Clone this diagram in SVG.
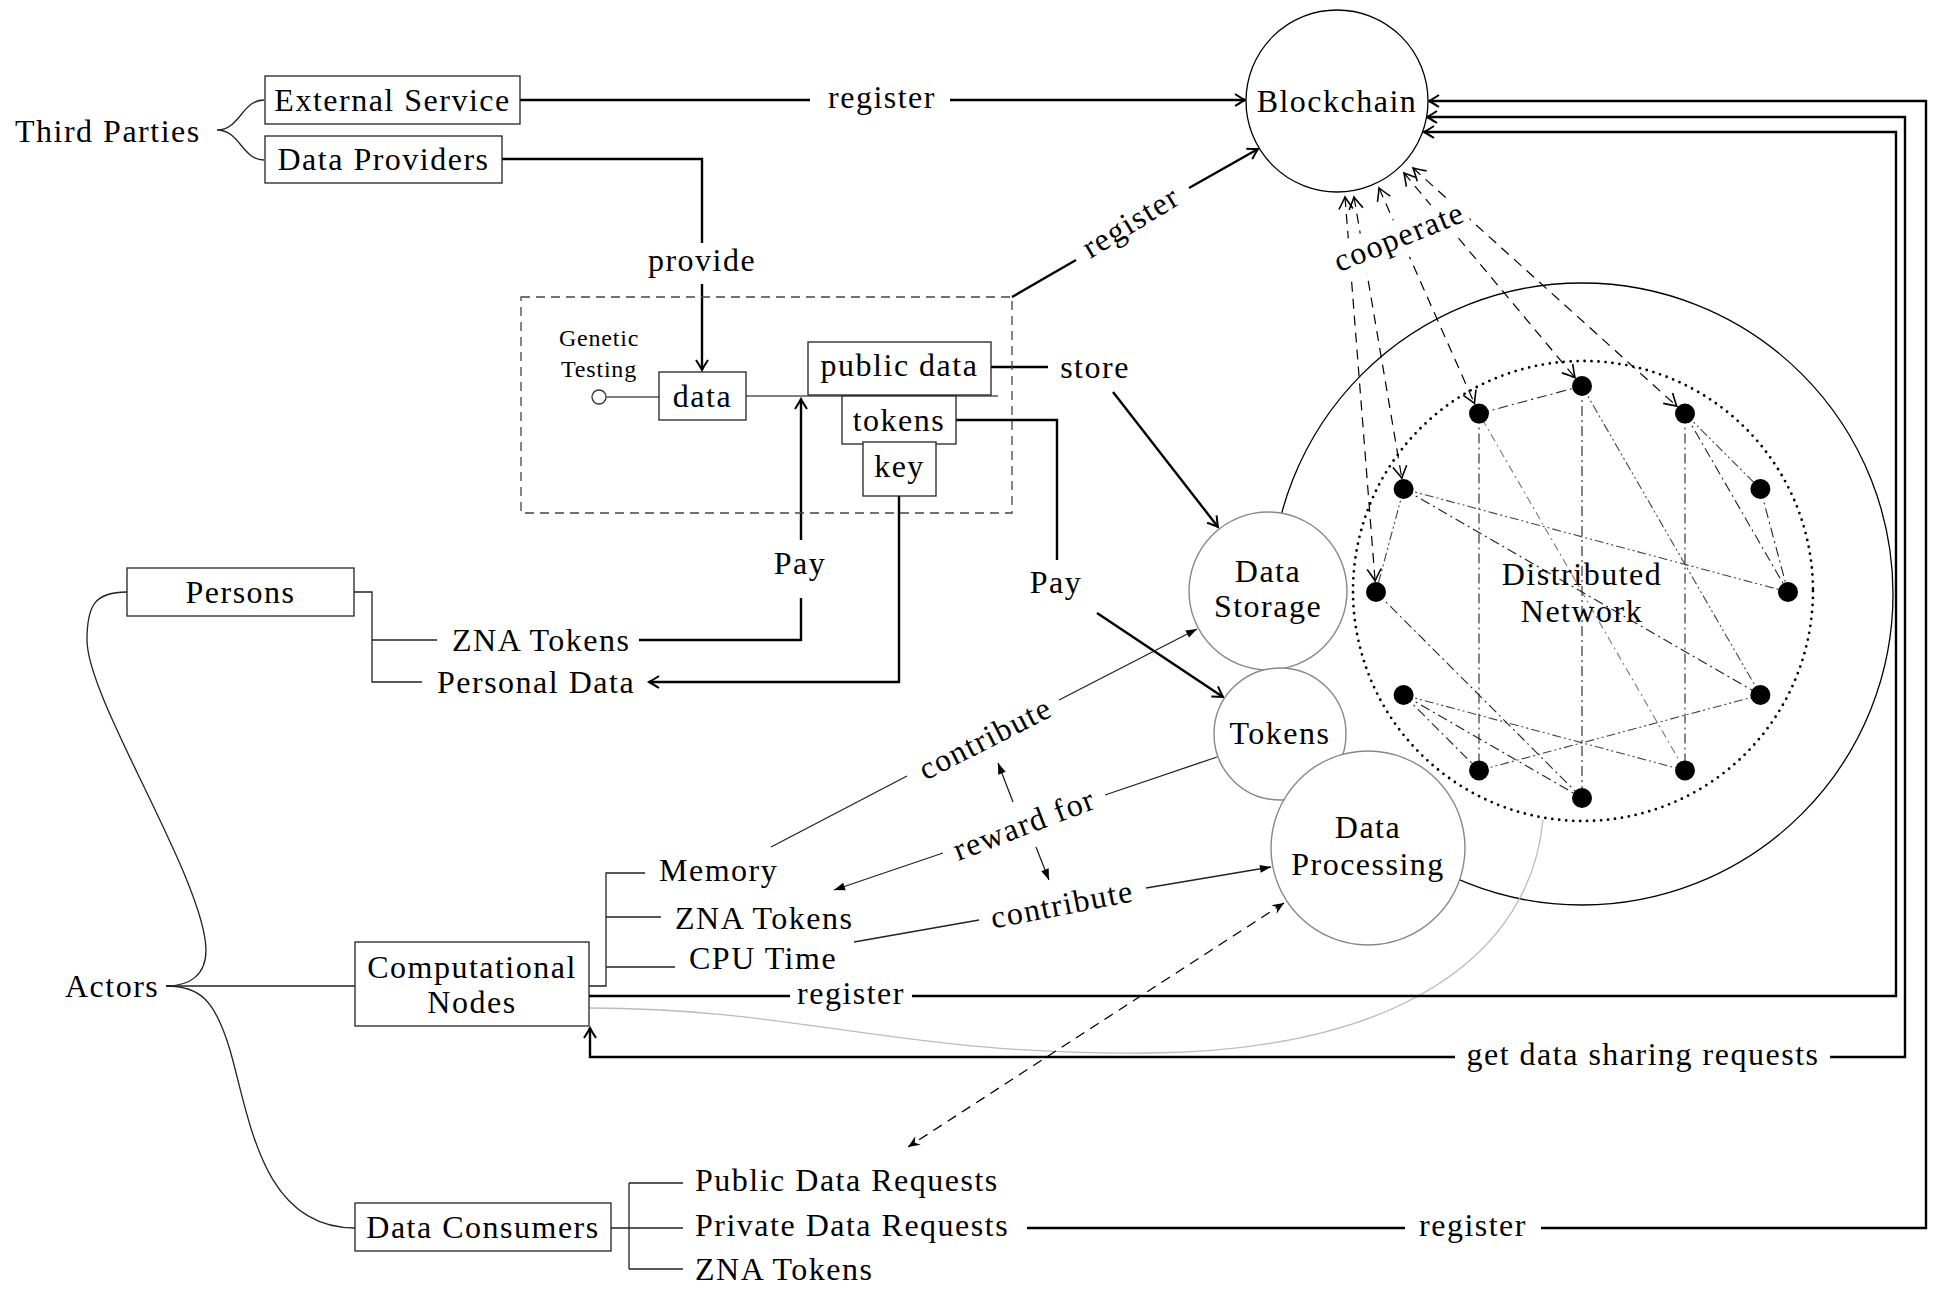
<svg xmlns="http://www.w3.org/2000/svg" width="1939" height="1290" viewBox="0 0 1939 1290">
<style>
.t{font-family:"Liberation Serif","Times New Roman",serif;font-size:32px;letter-spacing:1.5px;fill:#000}
.m{text-anchor:middle}
.s{font-size:24px;letter-spacing:0.8px}
.box{fill:#fff;stroke:#222;stroke-width:1.3}
.thin{fill:none;stroke:#222;stroke-width:1.3}
.thick{fill:none;stroke:#000;stroke-width:2.4}
.circ{fill:#fff;stroke:#888;stroke-width:1.4}
.coop{fill:none;stroke:#000;stroke-width:1.2;stroke-dasharray:10 7}
.e1{fill:none;stroke:#222;stroke-width:1.1;stroke-dasharray:10 4 2 4}
.e2{fill:none;stroke:#444;stroke-width:1.1;stroke-dasharray:9 3 2 3 2 3}
.e3{fill:none;stroke:#777;stroke-width:1.1;stroke-dasharray:2 4 8 4}
</style>
<defs>
<marker id="ar" viewBox="-12 -8 14 16" refX="0" refY="0" markerWidth="14" markerHeight="16" markerUnits="userSpaceOnUse" orient="auto-start-reverse">
<path d="M-10,-6 Q-3,-1.5 0,0 Q-3,1.5 -10,6" fill="none" stroke="#000" stroke-width="2"/>
</marker>
<marker id="ar2" viewBox="-14 -9 16 18" refX="0" refY="0" markerWidth="16" markerHeight="18" markerUnits="userSpaceOnUse" orient="auto-start-reverse">
<path d="M-12,-7 Q-3,-1.5 0,0 Q-3,1.5 -12,7" fill="none" stroke="#000" stroke-width="1.6"/>
</marker>
<marker id="tri" viewBox="-12 -6 14 12" refX="0" refY="0" markerWidth="14" markerHeight="12" markerUnits="userSpaceOnUse" orient="auto-start-reverse">
<path d="M0,0 L-11,-4 L-11,4 Z" fill="#000"/>
</marker>
<marker id="st" viewBox="-14 -7 16 14" refX="0" refY="0" markerWidth="16" markerHeight="14" markerUnits="userSpaceOnUse" orient="auto-start-reverse">
<path d="M0,0 L-12,-5 L-8,0 L-12,5 Z" fill="#000"/>
</marker>
</defs>
<rect width="1939" height="1290" fill="#fff"/>

<!-- network container -->
<g id="network">
<circle cx="1582" cy="594" r="311" fill="none" stroke="#000" stroke-width="1.3"/>
<circle cx="1583" cy="591" r="230" fill="none" stroke="#000" stroke-width="2.8" stroke-linecap="round" stroke-dasharray="0 7"/>
<g id="net-edges">
<line class="e1" x1="1479" y1="413.6" x2="1582" y2="386"/>
<line class="e1" x1="1582" y1="386" x2="1582" y2="798"/>
<line class="e2" x1="1582" y1="386" x2="1760.4" y2="695"/>
<line class="e1" x1="1479" y1="413.6" x2="1479" y2="770.4"/>
<line class="e3" x1="1479" y1="413.6" x2="1685" y2="770.4"/>
<line class="e2" x1="1403.6" y1="489" x2="1376" y2="592"/>
<line class="e2" x1="1403.6" y1="489" x2="1788" y2="592"/>
<line class="e1" x1="1403.6" y1="489" x2="1760.4" y2="695"/>
<line class="e2" x1="1685" y1="413.6" x2="1760.4" y2="489"/>
<line class="e1" x1="1685" y1="413.6" x2="1788" y2="592"/>
<line class="e1" x1="1685" y1="413.6" x2="1685" y2="770.4"/>
<line class="e1" x1="1760.4" y1="489" x2="1788" y2="592"/>
<line class="e1" x1="1376" y1="592" x2="1582" y2="798"/>
<line class="e1" x1="1403.6" y1="695" x2="1479" y2="770.4"/>
<line class="e2" x1="1403.6" y1="695" x2="1685" y2="770.4"/>
<line class="e1" x1="1403.6" y1="695" x2="1582" y2="798"/>
<line class="e2" x1="1479" y1="770.4" x2="1760.4" y2="695"/>
</g>
<g id="net-nodes" fill="#000">
<circle cx="1582" cy="386" r="10"/>
<circle cx="1479" cy="413.6" r="10"/>
<circle cx="1685" cy="413.6" r="10"/>
<circle cx="1403.6" cy="489" r="10"/>
<circle cx="1760.4" cy="489" r="10"/>
<circle cx="1376" cy="592" r="10"/>
<circle cx="1788" cy="592" r="10"/>
<circle cx="1403.6" cy="695" r="10"/>
<circle cx="1760.4" cy="695" r="10"/>
<circle cx="1479" cy="770.4" r="10"/>
<circle cx="1685" cy="770.4" r="10"/>
<circle cx="1582" cy="798" r="10"/>
</g>
<text class="t m" x="1582" y="585">Distributed</text>
<text class="t m" x="1582" y="622">Network</text>
</g>

<!-- connectors -->
<g id="connectors">
<path class="thin" d="M264,100 C242,100 240,130 217,130 C240,130 242,160 264,160"/>
<path class="thin" d="M127,592 C95,592 87,605 87,640 C87,700 205,880 206,950 C206,975 190,986 166,986"/>
<path class="thin" d="M166,986 H355"/>
<path class="thin" d="M166,986 C200,986 215,1000 230,1050 C250,1120 262,1228 355,1228"/>
<path class="thin" d="M354,592 H372 V682 H422 M372,640 H437"/>
<path class="thin" d="M589,986 H606 V873 H645 M606,917 H661 M606,967 H675"/>
<path class="thin" d="M611,1228 H629 M629,1183 V1269 M629,1183 H683 M629,1228 H683 M629,1269 H683"/>
<path fill="none" stroke="#bbb" stroke-width="1.3" d="M589,1008 C800,1008 900,1056 1150,1053 C1400,1050 1530,955 1543,820"/>

<path class="thick" d="M520,100 H810"/>
<path class="thick" marker-end="url(#ar)" d="M950,100 H1245"/>
<path class="thick" d="M502,159 H702 V243"/>
<path class="thick" marker-end="url(#ar)" d="M702,284 V370"/>
<path class="thick" d="M639,640 H801 V598"/>
<path class="thick" marker-end="url(#ar)" d="M801,540 V399"/>
<path class="thick" marker-end="url(#ar)" d="M899,496 V682 H649"/>
<path class="thick" d="M991,367 H1048"/>
<path class="thick" marker-end="url(#ar)" d="M1113,392 L1218,527"/>
<path class="thick" d="M956,420 H1057 V560"/>
<path class="thick" marker-end="url(#ar)" d="M1097,613 L1223,697"/>
<path class="thick" d="M1012,297 L1076,260"/>
<path class="thick" marker-end="url(#ar)" d="M1189,188 L1258,149"/>
<path class="thick" d="M589,996 H790"/>
<path class="thick" marker-end="url(#ar)" d="M912,996 H1896 V132 H1424"/>
<path class="thick" marker-end="url(#ar)" d="M1830,1057 H1905 V117 H1427"/>
<path class="thick" marker-end="url(#ar)" d="M1455,1057 H590 V1028"/>
<path class="thick" d="M1027,1228 H1405"/>
<path class="thick" marker-end="url(#ar)" d="M1541,1228 H1926 V101 H1429"/>

<path class="thin" d="M771,847 L907,776"/>
<path class="thin" marker-end="url(#tri)" d="M1059,700 L1197,629"/>
<path class="thin" d="M1217,757 L1105,795"/>
<path class="thin" marker-end="url(#tri)" d="M943,853 L834,890"/>
<path class="thin" marker-end="url(#tri)" d="M1013,802 L998,763"/>
<path class="thin" marker-end="url(#tri)" d="M1036,847 L1049,880"/>
<path class="thin" d="M854,942 L979,920"/>
<path class="thin" marker-end="url(#tri)" d="M1146,888 L1271,867"/>
<path fill="none" stroke="#000" stroke-width="1.3" stroke-dasharray="10 7" marker-start="url(#st)" marker-end="url(#st)" d="M1284,903 L908,1147"/>

<path class="coop" marker-start="url(#ar2)" marker-end="url(#ar2)" d="M1345,197 L1375.1,581"/>
<path class="coop" marker-start="url(#ar2)" marker-end="url(#ar2)" d="M1354,197 L1401.8,478.2"/>
<path class="coop" marker-start="url(#ar2)" marker-end="url(#ar2)" d="M1379,188 L1474.5,403.5"/>
<path class="coop" marker-start="url(#ar2)" marker-end="url(#ar2)" d="M1404,173 L1575,377.6"/>
<path class="coop" marker-start="url(#ar2)" marker-end="url(#ar2)" d="M1413,168 L1676.8,406.2"/>
<g transform="translate(1400,239) rotate(-22)">
<rect x="-72" y="-20" width="144" height="40" fill="#fff"/>
<text class="t m" x="0" y="8">cooperate</text>
</g>

<text class="t m" x="882" y="108">register</text>
<text class="t m" x="702" y="271">provide</text>
<text class="t m" x="1095" y="378">store</text>
<text class="t m" x="800" y="574">Pay</text>
<text class="t m" x="1056" y="593">Pay</text>
<text class="t m" transform="translate(1132,224) rotate(-31.5)" x="0" y="8">register</text>
<text class="t m" transform="translate(985,738) rotate(-27)" x="0" y="11">contribute</text>
<text class="t m" transform="translate(1024,824) rotate(-21)" x="0" y="11">reward for</text>
<text class="t m" transform="translate(1062,904) rotate(-11)" x="0" y="11">contribute</text>
<text class="t m" x="851" y="1004">register</text>
<text class="t m" x="1643" y="1065">get data sharing requests</text>
<text class="t m" x="1473" y="1236">register</text>
</g>

<g id="third-parties"><text class="t" x="15" y="142">Third Parties</text></g>
<g id="external-service"><rect class="box" x="265" y="76" width="255" height="48"/><text class="t m" x="392.5" y="111">External Service</text></g>
<g id="data-providers"><rect class="box" x="265" y="136" width="237" height="47"/><text class="t m" x="383.5" y="170">Data Providers</text></g>

<g id="blockchain"><circle cx="1337" cy="101" r="91" fill="#fff" stroke="#000" stroke-width="1.3"/><text class="t m" x="1337" y="112">Blockchain</text></g>

<g id="genetic-testing">
<rect x="521" y="297" width="491" height="216" fill="none" stroke="#444" stroke-width="1.3" stroke-dasharray="9 6"/>
<text class="t s m" x="599" y="346">Genetic</text>
<text class="t s m" x="599" y="377">Testing</text>
<circle cx="599" cy="397" r="7" fill="#fff" stroke="#333" stroke-width="1.3"/>
<line x1="606" y1="397" x2="659" y2="397" stroke="#555" stroke-width="1.3"/>
<line x1="746" y1="396" x2="998" y2="396" stroke="#555" stroke-width="1.3"/>
<rect class="box" x="659" y="372" width="87" height="48"/><text class="t m" x="702.5" y="407">data</text>
<rect class="box" x="808" y="342" width="183" height="53"/><text class="t m" x="899.5" y="376">public data</text>
<rect class="box" x="842" y="396" width="114" height="48"/><text class="t m" x="899" y="431">tokens</text>
<rect class="box" x="863" y="442" width="73" height="54"/><text class="t m" x="899.5" y="477">key</text>
</g>

<g id="data-storage"><circle class="circ" cx="1268" cy="591" r="79"/><text class="t m" x="1268" y="582">Data</text><text class="t m" x="1268" y="617">Storage</text></g>
<g id="tokens"><circle class="circ" cx="1280" cy="734" r="66"/><text class="t m" x="1280" y="744">Tokens</text></g>
<g id="data-processing"><circle class="circ" cx="1368" cy="848" r="97"/><text class="t m" x="1368" y="838">Data</text><text class="t m" x="1368" y="875">Processing</text></g>

<g id="persons"><rect class="box" x="127" y="568" width="227" height="48"/><text class="t m" x="240.5" y="603">Persons</text></g>
<g id="persons-items"><text class="t" x="452" y="651">ZNA Tokens</text><text class="t" x="437" y="693">Personal Data</text></g>
<g id="actors"><text class="t" x="65" y="997">Actors</text></g>
<g id="computational-nodes"><rect class="box" x="355" y="942" width="234" height="84"/><text class="t m" x="472" y="978">Computational</text><text class="t m" x="472" y="1013">Nodes</text></g>
<g id="computational-items"><text class="t" x="659" y="881">Memory</text><text class="t" x="675" y="929">ZNA Tokens</text><text class="t" x="689" y="969">CPU Time</text></g>
<g id="data-consumers"><rect class="box" x="355" y="1203" width="256" height="48"/><text class="t m" x="483" y="1238">Data Consumers</text></g>
<g id="consumer-items"><text class="t" x="695" y="1191">Public Data Requests</text><text class="t" x="695" y="1236">Private Data Requests</text><text class="t" x="695" y="1280">ZNA Tokens</text></g>
</svg>
